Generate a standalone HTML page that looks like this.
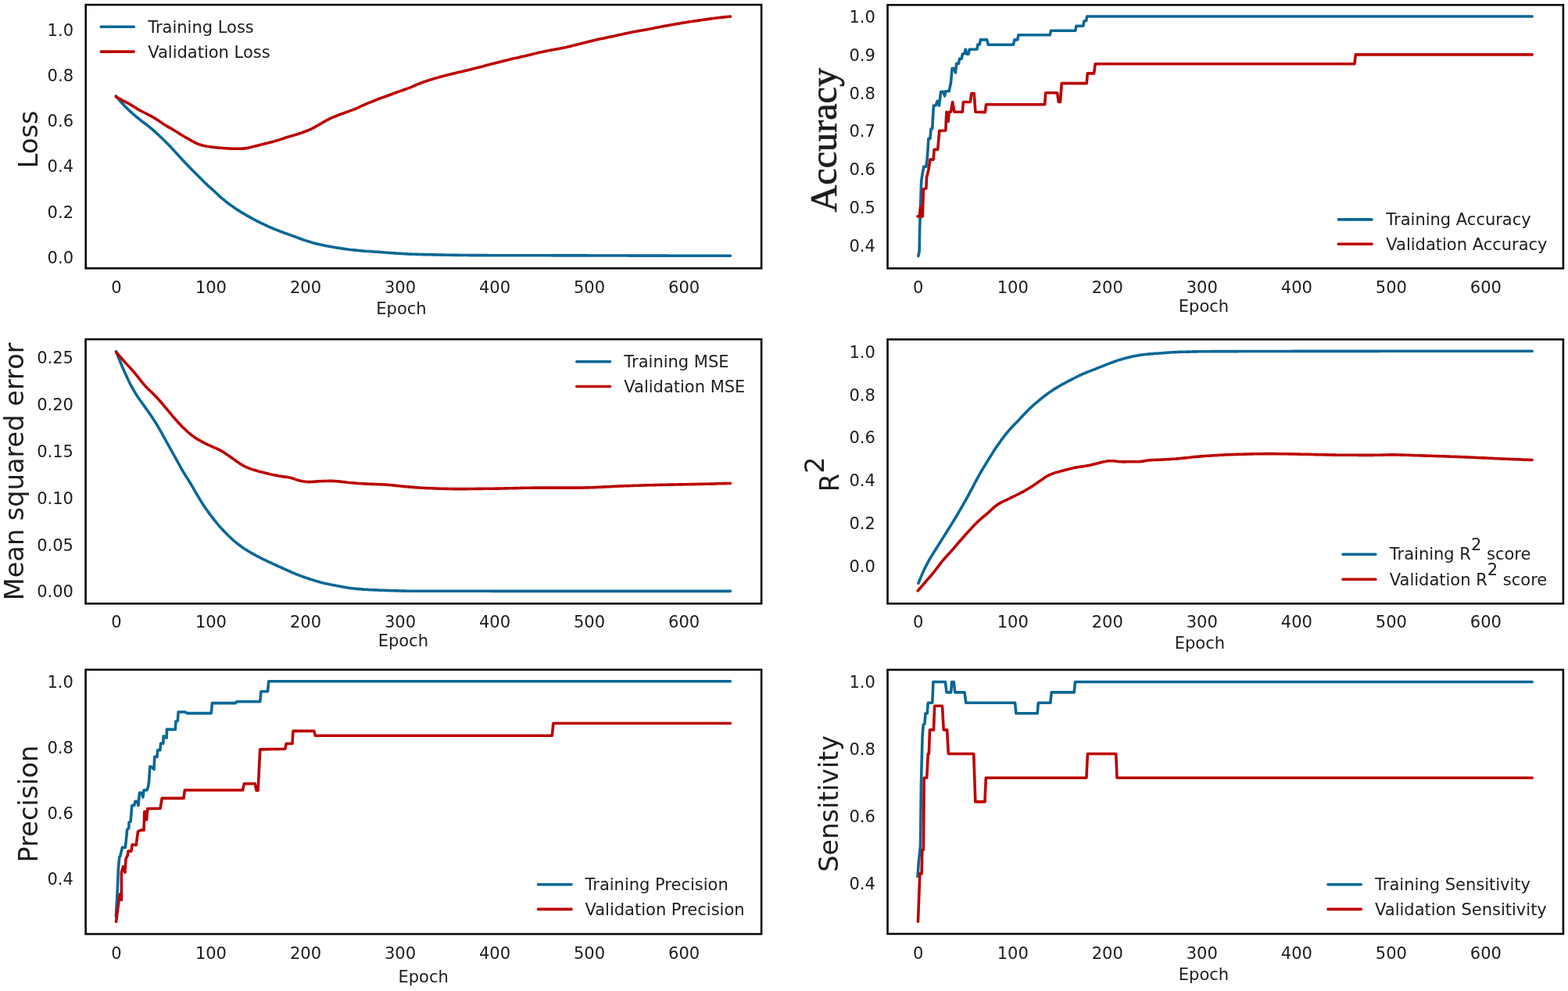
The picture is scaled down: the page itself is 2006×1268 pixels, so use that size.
<!DOCTYPE html><html><head><meta charset="utf-8"><title>Training curves</title>
<style>html,body{margin:0;padding:0;background:#fff;}svg{display:block;}text{fill:#1c1c1c;}</style></head><body>
<svg width="2006" height="1268" viewBox="0 0 2006 1268">
<rect width="2006" height="1268" fill="#fff"/>
<clipPath id="clipA"><rect x="109.7" y="6.1" width="864.4" height="337.2"/></clipPath>
<g clip-path="url(#clipA)" fill="none" stroke-width="3.6" stroke-linejoin="round" stroke-linecap="round">
<path d="M148.4,122.8 L150.4,125.3 L152.4,127.7 L154.4,130.1 L156.4,132.3 L158.4,134.5 L160.4,136.6 L162.4,138.6 L164.4,140.5 L166.4,142.4 L168.4,144.2 L170.4,146.0 L172.4,147.7 L174.4,149.4 L176.4,151.0 L178.4,152.6 L180.4,154.2 L182.4,155.7 L184.4,157.2 L186.4,158.7 L188.4,160.3 L190.4,161.9 L192.4,163.5 L194.4,165.2 L196.4,166.9 L198.4,168.7 L200.4,170.5 L202.4,172.3 L204.4,174.2 L206.4,176.1 L208.4,178.0 L210.4,180.0 L212.4,182.0 L214.4,184.0 L216.4,186.0 L218.4,188.1 L220.4,190.2 L222.4,192.4 L224.4,194.6 L226.4,196.8 L228.4,199.0 L230.4,201.2 L232.4,203.4 L234.4,205.5 L236.4,207.7 L238.4,209.8 L240.4,211.8 L242.4,213.9 L244.4,216.0 L246.4,218.0 L248.4,220.0 L250.4,222.0 L252.4,224.0 L254.4,226.0 L256.4,228.0 L258.4,230.1 L260.4,232.1 L262.4,234.0 L264.4,235.9 L266.4,237.8 L268.4,239.6 L270.4,241.4 L272.4,243.2 L274.4,245.0 L276.4,246.9 L278.4,248.7 L280.4,250.6 L282.4,252.3 L284.4,254.1 L286.4,255.7 L288.4,257.4 L290.4,259.0 L292.4,260.5 L294.4,262.0 L296.4,263.4 L298.4,264.8 L300.4,266.2 L302.4,267.6 L304.4,268.9 L306.4,270.1 L308.4,271.4 L310.4,272.6 L312.4,273.7 L314.4,274.9 L316.4,276.1 L318.4,277.2 L320.4,278.3 L322.4,279.4 L324.4,280.5 L326.4,281.6 L328.4,282.6 L330.4,283.6 L332.4,284.6 L334.4,285.6 L336.4,286.5 L338.4,287.5 L340.4,288.4 L342.4,289.4 L344.4,290.3 L346.4,291.1 L348.4,292.0 L350.4,292.8 L352.4,293.7 L354.4,294.4 L356.4,295.2 L358.4,296.0 L360.4,296.7 L362.4,297.5 L364.4,298.2 L366.4,298.9 L368.4,299.6 L370.4,300.3 L372.4,301.1 L374.4,301.8 L376.4,302.5 L378.4,303.3 L380.4,304.0 L382.4,304.8 L384.4,305.5 L386.4,306.2 L388.4,307.0 L390.4,307.6 L392.4,308.3 L394.4,308.9 L396.4,309.5 L398.4,310.1 L400.4,310.7 L402.4,311.2 L404.4,311.7 L406.4,312.2 L408.4,312.7 L410.4,313.1 L412.4,313.6 L414.4,314.0 L416.4,314.4 L418.4,314.8 L420.4,315.1 L422.4,315.5 L424.4,315.8 L426.4,316.2 L428.4,316.5 L430.4,316.9 L432.4,317.2 L434.4,317.5 L436.4,317.8 L438.4,318.1 L440.4,318.4 L442.4,318.7 L444.4,319.0 L446.4,319.2 L448.4,319.5 L450.4,319.7 L452.4,319.9 L454.4,320.1 L456.4,320.3 L458.4,320.5 L460.4,320.7 L462.4,320.9 L464.4,321.1 L466.4,321.2 L468.4,321.4 L470.4,321.5 L472.4,321.6 L474.4,321.8 L476.4,321.9 L478.4,322.0 L480.4,322.2 L482.4,322.3 L484.4,322.4 L486.4,322.6 L488.4,322.7 L490.4,322.9 L492.4,323.0 L494.4,323.2 L496.4,323.4 L498.4,323.5 L500.4,323.7 L502.4,323.8 L504.4,323.9 L506.4,324.1 L508.4,324.2 L510.4,324.3 L512.4,324.4 L514.4,324.5 L516.4,324.7 L518.4,324.8 L520.4,324.9 L522.4,325.0 L524.4,325.1 L526.4,325.1 L528.4,325.2 L530.4,325.3 L532.4,325.4 L534.4,325.4 L536.4,325.5 L538.4,325.5 L540.4,325.6 L542.4,325.6 L544.4,325.7 L546.4,325.7 L548.4,325.8 L550.4,325.8 L552.4,325.9 L554.4,325.9 L556.4,325.9 L558.4,326.0 L560.4,326.0 L562.4,326.1 L564.4,326.1 L566.4,326.1 L568.4,326.2 L570.4,326.2 L572.4,326.3 L574.4,326.3 L576.4,326.3 L578.4,326.4 L580.4,326.4 L582.4,326.4 L584.4,326.4 L586.4,326.5 L588.4,326.5 L590.4,326.5 L592.4,326.5 L594.4,326.5 L596.4,326.5 L598.4,326.5 L600.4,326.6 L602.4,326.6 L604.4,326.6 L606.4,326.6 L608.4,326.6 L610.4,326.6 L612.4,326.6 L614.4,326.6 L616.4,326.6 L618.4,326.6 L620.4,326.6 L622.4,326.6 L624.4,326.7 L626.4,326.7 L628.4,326.7 L630.4,326.7 L632.4,326.7 L634.4,326.7 L636.4,326.7 L638.4,326.7 L640.4,326.7 L642.4,326.7 L644.4,326.7 L646.4,326.7 L648.4,326.7 L650.4,326.7 L652.4,326.7 L654.4,326.7 L656.4,326.7 L658.4,326.7 L660.4,326.8 L662.4,326.8 L664.4,326.8 L666.4,326.8 L668.4,326.8 L670.4,326.8 L672.4,326.8 L674.4,326.8 L676.4,326.8 L678.4,326.8 L680.4,326.8 L682.4,326.8 L684.4,326.8 L686.4,326.8 L688.4,326.8 L690.4,326.8 L692.4,326.8 L694.4,326.8 L696.4,326.8 L698.4,326.8 L700.4,326.8 L702.4,326.8 L704.4,326.8 L706.4,326.9 L708.4,326.9 L710.4,326.9 L712.4,326.9 L714.4,326.9 L716.4,326.9 L718.4,326.9 L720.4,326.9 L722.4,326.9 L724.4,326.9 L726.4,326.9 L728.4,326.9 L730.4,326.9 L732.4,326.9 L734.4,326.9 L736.4,326.9 L738.4,326.9 L740.4,326.9 L742.4,326.9 L744.4,326.9 L746.4,326.9 L748.4,326.9 L750.4,326.9 L752.4,326.9 L754.4,327.0 L756.4,327.0 L758.4,327.0 L760.4,327.0 L762.4,327.0 L764.4,327.0 L766.4,327.0 L768.4,327.0 L770.4,327.0 L772.4,327.0 L774.4,327.0 L776.4,327.0 L778.4,327.0 L780.4,327.0 L782.4,327.0 L784.4,327.0 L786.4,327.0 L788.4,327.0 L790.4,327.0 L792.4,327.0 L794.4,327.0 L796.4,327.0 L798.4,327.0 L800.4,327.0 L802.4,327.0 L804.4,327.1 L806.4,327.1 L808.4,327.1 L810.4,327.1 L812.4,327.1 L814.4,327.1 L816.4,327.1 L818.4,327.1 L820.4,327.1 L822.4,327.1 L824.4,327.1 L826.4,327.1 L828.4,327.1 L830.4,327.1 L832.4,327.1 L834.4,327.1 L836.4,327.1 L838.4,327.1 L840.4,327.1 L842.4,327.1 L844.4,327.1 L846.4,327.1 L848.4,327.1 L850.4,327.1 L852.4,327.1 L854.4,327.2 L856.4,327.2 L858.4,327.2 L860.4,327.2 L862.4,327.2 L864.4,327.2 L866.4,327.2 L868.4,327.2 L870.4,327.2 L872.4,327.2 L874.4,327.2 L876.4,327.2 L878.4,327.2 L880.4,327.2 L882.4,327.2 L884.4,327.2 L886.4,327.2 L888.4,327.2 L890.4,327.2 L892.4,327.2 L894.4,327.2 L896.4,327.2 L898.4,327.2 L900.4,327.2 L902.4,327.2 L904.4,327.2 L906.4,327.3 L908.4,327.3 L910.4,327.3 L912.4,327.3 L914.4,327.3 L916.4,327.3 L918.4,327.3 L920.4,327.3 L922.4,327.3 L924.4,327.3 L926.4,327.3 L928.4,327.3 L930.4,327.3 L932.4,327.3 L934.4,327.3" stroke="#0a6796"/>
<path d="M148.4,123.8 L150.4,125.0 L152.4,126.1 L154.4,127.2 L156.4,128.3 L158.4,129.3 L160.4,130.4 L162.4,131.4 L164.4,132.4 L166.4,133.5 L168.4,134.7 L170.4,135.9 L172.4,137.2 L174.4,138.4 L176.4,139.7 L178.4,140.9 L180.4,142.0 L182.4,143.0 L184.4,144.0 L186.4,145.0 L188.4,146.1 L190.4,147.1 L192.4,148.1 L194.4,149.2 L196.4,150.4 L198.4,151.5 L200.4,152.8 L202.4,154.1 L204.4,155.5 L206.4,156.8 L208.4,158.2 L210.4,159.5 L212.4,160.7 L214.4,161.9 L216.4,163.1 L218.4,164.2 L220.4,165.3 L222.4,166.5 L224.4,167.7 L226.4,169.0 L228.4,170.3 L230.4,171.6 L232.4,172.8 L234.4,174.0 L236.4,175.2 L238.4,176.3 L240.4,177.4 L242.4,178.5 L244.4,179.7 L246.4,180.8 L248.4,181.9 L250.4,182.9 L252.4,183.8 L254.4,184.6 L256.4,185.2 L258.4,185.8 L260.4,186.4 L262.4,186.8 L264.4,187.2 L266.4,187.5 L268.4,187.8 L270.4,188.1 L272.4,188.3 L274.4,188.6 L276.4,188.8 L278.4,189.0 L280.4,189.1 L282.4,189.3 L284.4,189.5 L286.4,189.6 L288.4,189.8 L290.4,189.9 L292.4,190.0 L294.4,190.1 L296.4,190.2 L298.4,190.3 L300.4,190.3 L302.4,190.3 L304.4,190.3 L306.4,190.3 L308.4,190.2 L310.4,190.1 L312.4,189.9 L314.4,189.7 L316.4,189.4 L318.4,189.0 L320.4,188.6 L322.4,188.1 L324.4,187.6 L326.4,187.0 L328.4,186.5 L330.4,186.0 L332.4,185.4 L334.4,184.9 L336.4,184.4 L338.4,183.9 L340.4,183.4 L342.4,183.0 L344.4,182.5 L346.4,182.0 L348.4,181.5 L350.4,181.0 L352.4,180.4 L354.4,179.8 L356.4,179.2 L358.4,178.6 L360.4,177.9 L362.4,177.2 L364.4,176.5 L366.4,175.8 L368.4,175.2 L370.4,174.6 L372.4,174.0 L374.4,173.5 L376.4,172.9 L378.4,172.3 L380.4,171.7 L382.4,171.0 L384.4,170.4 L386.4,169.7 L388.4,169.0 L390.4,168.2 L392.4,167.5 L394.4,166.7 L396.4,165.8 L398.4,164.9 L400.4,163.9 L402.4,162.8 L404.4,161.7 L406.4,160.6 L408.4,159.4 L410.4,158.2 L412.4,157.0 L414.4,155.9 L416.4,154.7 L418.4,153.6 L420.4,152.6 L422.4,151.6 L424.4,150.7 L426.4,149.9 L428.4,149.0 L430.4,148.3 L432.4,147.5 L434.4,146.7 L436.4,146.0 L438.4,145.3 L440.4,144.5 L442.4,143.8 L444.4,143.1 L446.4,142.3 L448.4,141.6 L450.4,140.9 L452.4,140.1 L454.4,139.3 L456.4,138.5 L458.4,137.6 L460.4,136.6 L462.4,135.7 L464.4,134.8 L466.4,133.9 L468.4,133.1 L470.4,132.2 L472.4,131.4 L474.4,130.6 L476.4,129.8 L478.4,129.0 L480.4,128.1 L482.4,127.3 L484.4,126.5 L486.4,125.8 L488.4,125.1 L490.4,124.4 L492.4,123.7 L494.4,123.0 L496.4,122.3 L498.4,121.5 L500.4,120.8 L502.4,120.0 L504.4,119.3 L506.4,118.5 L508.4,117.8 L510.4,117.1 L512.4,116.4 L514.4,115.7 L516.4,115.0 L518.4,114.3 L520.4,113.6 L522.4,112.9 L524.4,112.1 L526.4,111.3 L528.4,110.4 L530.4,109.5 L532.4,108.7 L534.4,107.8 L536.4,107.0 L538.4,106.2 L540.4,105.5 L542.4,104.8 L544.4,104.1 L546.4,103.4 L548.4,102.8 L550.4,102.1 L552.4,101.5 L554.4,100.9 L556.4,100.3 L558.4,99.7 L560.4,99.2 L562.4,98.6 L564.4,98.1 L566.4,97.5 L568.4,97.0 L570.4,96.5 L572.4,96.0 L574.4,95.5 L576.4,95.0 L578.4,94.5 L580.4,94.0 L582.4,93.5 L584.4,93.1 L586.4,92.6 L588.4,92.1 L590.4,91.7 L592.4,91.2 L594.4,90.7 L596.4,90.2 L598.4,89.7 L600.4,89.3 L602.4,88.8 L604.4,88.3 L606.4,87.8 L608.4,87.3 L610.4,86.8 L612.4,86.2 L614.4,85.7 L616.4,85.2 L618.4,84.7 L620.4,84.1 L622.4,83.6 L624.4,83.1 L626.4,82.5 L628.4,82.0 L630.4,81.5 L632.4,81.0 L634.4,80.5 L636.4,80.0 L638.4,79.5 L640.4,79.0 L642.4,78.5 L644.4,78.0 L646.4,77.5 L648.4,77.0 L650.4,76.5 L652.4,76.1 L654.4,75.6 L656.4,75.1 L658.4,74.6 L660.4,74.2 L662.4,73.7 L664.4,73.3 L666.4,72.8 L668.4,72.3 L670.4,71.9 L672.4,71.4 L674.4,70.9 L676.4,70.5 L678.4,70.0 L680.4,69.5 L682.4,69.0 L684.4,68.5 L686.4,68.1 L688.4,67.6 L690.4,67.1 L692.4,66.7 L694.4,66.2 L696.4,65.8 L698.4,65.4 L700.4,65.0 L702.4,64.6 L704.4,64.2 L706.4,63.8 L708.4,63.5 L710.4,63.1 L712.4,62.8 L714.4,62.4 L716.4,62.1 L718.4,61.7 L720.4,61.3 L722.4,60.8 L724.4,60.4 L726.4,59.9 L728.4,59.4 L730.4,58.9 L732.4,58.4 L734.4,57.9 L736.4,57.4 L738.4,56.9 L740.4,56.4 L742.4,55.9 L744.4,55.4 L746.4,54.9 L748.4,54.4 L750.4,53.9 L752.4,53.4 L754.4,52.9 L756.4,52.4 L758.4,51.9 L760.4,51.4 L762.4,51.0 L764.4,50.5 L766.4,50.1 L768.4,49.7 L770.4,49.3 L772.4,48.9 L774.4,48.4 L776.4,48.0 L778.4,47.6 L780.4,47.2 L782.4,46.8 L784.4,46.4 L786.4,45.9 L788.4,45.5 L790.4,45.0 L792.4,44.6 L794.4,44.2 L796.4,43.7 L798.4,43.3 L800.4,42.8 L802.4,42.4 L804.4,42.0 L806.4,41.6 L808.4,41.2 L810.4,40.8 L812.4,40.4 L814.4,40.1 L816.4,39.7 L818.4,39.3 L820.4,39.0 L822.4,38.6 L824.4,38.3 L826.4,37.9 L828.4,37.5 L830.4,37.2 L832.4,36.8 L834.4,36.4 L836.4,36.0 L838.4,35.6 L840.4,35.2 L842.4,34.8 L844.4,34.5 L846.4,34.1 L848.4,33.7 L850.4,33.3 L852.4,32.9 L854.4,32.6 L856.4,32.2 L858.4,31.8 L860.4,31.5 L862.4,31.1 L864.4,30.8 L866.4,30.4 L868.4,30.1 L870.4,29.8 L872.4,29.4 L874.4,29.1 L876.4,28.8 L878.4,28.5 L880.4,28.1 L882.4,27.8 L884.4,27.5 L886.4,27.2 L888.4,26.9 L890.4,26.6 L892.4,26.4 L894.4,26.1 L896.4,25.8 L898.4,25.5 L900.4,25.2 L902.4,24.9 L904.4,24.6 L906.4,24.4 L908.4,24.1 L910.4,23.8 L912.4,23.5 L914.4,23.3 L916.4,23.0 L918.4,22.8 L920.4,22.5 L922.4,22.3 L924.4,22.1 L926.4,21.9 L928.4,21.7 L930.4,21.5 L932.4,21.3 L934.4,21.1" stroke="#bb0000"/>
</g>
<rect x="109.7" y="6.1" width="864.4" height="337.2" fill="none" stroke="#0a0a0a" stroke-width="2.6" stroke-linejoin="miter"/>
<text x="94.00" y="336.70" font-size="21" text-anchor="end" font-family="'DejaVu Sans', 'Liberation Sans', sans-serif">0.0</text>
<text x="94.00" y="278.57" font-size="21" text-anchor="end" font-family="'DejaVu Sans', 'Liberation Sans', sans-serif">0.2</text>
<text x="94.00" y="220.44" font-size="21" text-anchor="end" font-family="'DejaVu Sans', 'Liberation Sans', sans-serif">0.4</text>
<text x="94.00" y="162.31" font-size="21" text-anchor="end" font-family="'DejaVu Sans', 'Liberation Sans', sans-serif">0.6</text>
<text x="94.00" y="104.18" font-size="21" text-anchor="end" font-family="'DejaVu Sans', 'Liberation Sans', sans-serif">0.8</text>
<text x="94.00" y="46.05" font-size="21" text-anchor="end" font-family="'DejaVu Sans', 'Liberation Sans', sans-serif">1.0</text>
<text x="148.90" y="374.70" font-size="21" text-anchor="middle" font-family="'DejaVu Sans', 'Liberation Sans', sans-serif">0</text>
<text x="269.93" y="374.70" font-size="21" text-anchor="middle" font-family="'DejaVu Sans', 'Liberation Sans', sans-serif">100</text>
<text x="390.96" y="374.70" font-size="21" text-anchor="middle" font-family="'DejaVu Sans', 'Liberation Sans', sans-serif">200</text>
<text x="511.99" y="374.70" font-size="21" text-anchor="middle" font-family="'DejaVu Sans', 'Liberation Sans', sans-serif">300</text>
<text x="633.02" y="374.70" font-size="21" text-anchor="middle" font-family="'DejaVu Sans', 'Liberation Sans', sans-serif">400</text>
<text x="754.05" y="374.70" font-size="21" text-anchor="middle" font-family="'DejaVu Sans', 'Liberation Sans', sans-serif">500</text>
<text x="875.08" y="374.70" font-size="21" text-anchor="middle" font-family="'DejaVu Sans', 'Liberation Sans', sans-serif">600</text>
<text x="513.50" y="401.90" font-size="21" text-anchor="middle" font-family="'DejaVu Sans', 'Liberation Sans', sans-serif">Epoch</text>
<line x1="129.3" y1="34.3" x2="171.2" y2="34.3" stroke="#0a6796" stroke-width="3.6" stroke-linecap="round"/>
<line x1="129.3" y1="66.1" x2="171.2" y2="66.1" stroke="#bb0000" stroke-width="3.6" stroke-linecap="round"/>
<text x="189.20" y="41.80" font-size="21" text-anchor="start" font-family="'DejaVu Sans', 'Liberation Sans', sans-serif">Training Loss</text>
<text x="189.20" y="73.60" font-size="21" text-anchor="start" font-family="'DejaVu Sans', 'Liberation Sans', sans-serif">Validation Loss</text>
<clipPath id="clipB"><rect x="1135.5" y="6.3" width="864.4000000000001" height="337.09999999999997"/></clipPath>
<g clip-path="url(#clipB)" fill="none" stroke-width="3.6" stroke-linejoin="round" stroke-linecap="round">
<path d="M1174.8,327.6 L1176.1,321.3 L1176.6,293.6 L1177.7,262.6 L1178.7,231.8 L1180.3,221.5 L1181.8,213.3 L1184.9,213.3 L1186.4,201.0 L1187.9,177.4 L1190.0,177.4 L1191.0,165.1 L1192.7,164.8 L1194.4,135.0 L1197.1,135.0 L1199.3,129.4 L1201.5,135.0 L1203.7,117.3 L1206.5,117.3 L1208.7,122.8 L1209.8,116.7 L1214.2,116.7 L1216.4,106.2 L1218.1,87.5 L1220.3,87.5 L1222.5,93.0 L1223.6,81.4 L1226.4,81.4 L1227.5,75.3 L1230.2,75.3 L1231.3,69.3 L1234.1,68.2 L1235.2,63.2 L1236.9,69.3 L1239.1,69.3 L1240.2,63.2 L1249.9,63.0 L1251.0,56.9 L1253.3,56.9 L1254.4,50.9 L1262.6,50.9 L1264.3,57.3 L1296.3,57.3 L1298.0,50.9 L1301.8,50.9 L1302.9,44.8 L1343.2,44.8 L1344.4,39.3 L1375.8,39.3 L1376.9,33.2 L1385.8,33.2 L1386.9,27.1 L1389.6,26.6 L1390.7,21.0 L1960.2,21.0" stroke="#0a6796"/>
<path d="M1174.1,276.9 L1176.2,276.9 L1177.7,264.6 L1178.7,276.9 L1179.5,268.0 L1180.3,276.9 L1181.3,242.1 L1184.9,241.0 L1185.4,227.7 L1187.9,217.4 L1190.0,204.1 L1194.1,204.1 L1195.1,191.3 L1199.7,191.3 L1201.8,167.2 L1209.8,167.0 L1210.9,143.2 L1212.0,150.0 L1213.1,155.4 L1214.2,143.2 L1216.4,143.2 L1218.6,130.5 L1220.9,143.2 L1231.3,143.2 L1232.4,130.5 L1241.3,130.5 L1242.9,119.5 L1246.2,119.5 L1247.9,143.2 L1260.4,143.6 L1261.5,133.7 L1336.6,133.7 L1337.7,118.8 L1352.6,118.8 L1354.3,130.4 L1356.5,130.4 L1358.2,106.6 L1390.2,106.6 L1391.3,93.9 L1399.6,93.9 L1401.2,81.8 L1732.9,81.8 L1734.3,69.9 L1960.2,69.9" stroke="#bb0000"/>
</g>
<rect x="1135.5" y="6.3" width="864.4" height="337.1" fill="none" stroke="#0a0a0a" stroke-width="2.6" stroke-linejoin="miter"/>
<text x="1119.80" y="321.70" font-size="21" text-anchor="end" font-family="'DejaVu Sans', 'Liberation Sans', sans-serif">0.4</text>
<text x="1119.80" y="272.95" font-size="21" text-anchor="end" font-family="'DejaVu Sans', 'Liberation Sans', sans-serif">0.5</text>
<text x="1119.80" y="224.20" font-size="21" text-anchor="end" font-family="'DejaVu Sans', 'Liberation Sans', sans-serif">0.6</text>
<text x="1119.80" y="175.45" font-size="21" text-anchor="end" font-family="'DejaVu Sans', 'Liberation Sans', sans-serif">0.7</text>
<text x="1119.80" y="126.70" font-size="21" text-anchor="end" font-family="'DejaVu Sans', 'Liberation Sans', sans-serif">0.8</text>
<text x="1119.80" y="77.95" font-size="21" text-anchor="end" font-family="'DejaVu Sans', 'Liberation Sans', sans-serif">0.9</text>
<text x="1119.80" y="29.20" font-size="21" text-anchor="end" font-family="'DejaVu Sans', 'Liberation Sans', sans-serif">1.0</text>
<text x="1174.70" y="374.70" font-size="21" text-anchor="middle" font-family="'DejaVu Sans', 'Liberation Sans', sans-serif">0</text>
<text x="1295.73" y="374.70" font-size="21" text-anchor="middle" font-family="'DejaVu Sans', 'Liberation Sans', sans-serif">100</text>
<text x="1416.76" y="374.70" font-size="21" text-anchor="middle" font-family="'DejaVu Sans', 'Liberation Sans', sans-serif">200</text>
<text x="1537.79" y="374.70" font-size="21" text-anchor="middle" font-family="'DejaVu Sans', 'Liberation Sans', sans-serif">300</text>
<text x="1658.82" y="374.70" font-size="21" text-anchor="middle" font-family="'DejaVu Sans', 'Liberation Sans', sans-serif">400</text>
<text x="1779.85" y="374.70" font-size="21" text-anchor="middle" font-family="'DejaVu Sans', 'Liberation Sans', sans-serif">500</text>
<text x="1900.88" y="374.70" font-size="21" text-anchor="middle" font-family="'DejaVu Sans', 'Liberation Sans', sans-serif">600</text>
<text x="1540.00" y="399.00" font-size="21" text-anchor="middle" font-family="'DejaVu Sans', 'Liberation Sans', sans-serif">Epoch</text>
<line x1="1712.3" y1="280.9" x2="1755.0" y2="280.9" stroke="#0a6796" stroke-width="3.6" stroke-linecap="round"/>
<line x1="1712.3" y1="312.3" x2="1755.0" y2="312.3" stroke="#bb0000" stroke-width="3.6" stroke-linecap="round"/>
<text x="1773.30" y="288.10" font-size="21" text-anchor="start" font-family="'DejaVu Sans', 'Liberation Sans', sans-serif">Training Accuracy</text>
<text x="1773.30" y="319.50" font-size="21" text-anchor="start" font-family="'DejaVu Sans', 'Liberation Sans', sans-serif">Validation Accuracy</text>
<clipPath id="clipC"><rect x="109.6" y="434.1" width="864.5" height="338.19999999999993"/></clipPath>
<g clip-path="url(#clipC)" fill="none" stroke-width="3.6" stroke-linejoin="round" stroke-linecap="round">
<path d="M148.6,449.7 L150.6,454.9 L152.6,459.9 L154.6,464.8 L156.6,469.5 L158.6,474.1 L160.6,478.6 L162.6,482.9 L164.6,487.2 L166.6,491.2 L168.6,495.1 L170.6,498.7 L172.6,502.1 L174.6,505.3 L176.6,508.3 L178.6,511.2 L180.6,514.0 L182.6,516.8 L184.6,519.6 L186.6,522.4 L188.6,525.2 L190.6,528.0 L192.6,530.9 L194.6,533.8 L196.6,536.9 L198.6,540.0 L200.6,543.3 L202.6,546.7 L204.6,550.2 L206.6,553.7 L208.6,557.3 L210.6,560.9 L212.6,564.5 L214.6,568.1 L216.6,571.7 L218.6,575.3 L220.6,578.9 L222.6,582.5 L224.6,586.1 L226.6,589.7 L228.6,593.4 L230.6,597.0 L232.6,600.5 L234.6,604.0 L236.6,607.3 L238.6,610.5 L240.6,613.6 L242.6,616.7 L244.6,620.0 L246.6,623.4 L248.6,626.8 L250.6,630.3 L252.6,633.8 L254.6,637.2 L256.6,640.5 L258.6,643.7 L260.6,646.7 L262.6,649.7 L264.6,652.6 L266.6,655.4 L268.6,658.1 L270.6,660.8 L272.6,663.4 L274.6,665.9 L276.6,668.4 L278.6,670.8 L280.6,673.1 L282.6,675.4 L284.6,677.6 L286.6,679.7 L288.6,681.8 L290.6,683.8 L292.6,685.8 L294.6,687.7 L296.6,689.5 L298.6,691.3 L300.6,693.0 L302.6,694.7 L304.6,696.3 L306.6,697.8 L308.6,699.3 L310.6,700.7 L312.6,702.1 L314.6,703.3 L316.6,704.6 L318.6,705.8 L320.6,707.0 L322.6,708.1 L324.6,709.2 L326.6,710.3 L328.6,711.4 L330.6,712.4 L332.6,713.5 L334.6,714.5 L336.6,715.5 L338.6,716.4 L340.6,717.4 L342.6,718.4 L344.6,719.3 L346.6,720.2 L348.6,721.2 L350.6,722.1 L352.6,723.0 L354.6,723.9 L356.6,724.8 L358.6,725.7 L360.6,726.6 L362.6,727.5 L364.6,728.4 L366.6,729.3 L368.6,730.2 L370.6,731.1 L372.6,732.0 L374.6,732.9 L376.6,733.7 L378.6,734.6 L380.6,735.3 L382.6,736.1 L384.6,736.9 L386.6,737.6 L388.6,738.3 L390.6,739.0 L392.6,739.6 L394.6,740.3 L396.6,741.0 L398.6,741.6 L400.6,742.2 L402.6,742.9 L404.6,743.5 L406.6,744.1 L408.6,744.6 L410.6,745.2 L412.6,745.7 L414.6,746.2 L416.6,746.7 L418.6,747.1 L420.6,747.5 L422.6,747.9 L424.6,748.3 L426.6,748.7 L428.6,749.1 L430.6,749.5 L432.6,749.8 L434.6,750.2 L436.6,750.6 L438.6,750.9 L440.6,751.3 L442.6,751.6 L444.6,752.0 L446.6,752.3 L448.6,752.6 L450.6,752.8 L452.6,753.0 L454.6,753.3 L456.6,753.4 L458.6,753.6 L460.6,753.8 L462.6,753.9 L464.6,754.1 L466.6,754.2 L468.6,754.3 L470.6,754.5 L472.6,754.6 L474.6,754.7 L476.6,754.8 L478.6,754.9 L480.6,754.9 L482.6,755.0 L484.6,755.1 L486.6,755.2 L488.6,755.3 L490.6,755.3 L492.6,755.4 L494.6,755.5 L496.6,755.5 L498.6,755.6 L500.6,755.7 L502.6,755.7 L504.6,755.8 L506.6,755.9 L508.6,755.9 L510.6,756.0 L512.6,756.0 L514.6,756.1 L516.6,756.1 L518.6,756.1 L520.6,756.2 L522.6,756.2 L524.6,756.2 L526.6,756.3 L528.6,756.3 L530.6,756.3 L532.6,756.3 L534.6,756.3 L536.6,756.3 L538.6,756.3 L540.6,756.3 L542.6,756.3 L544.6,756.3 L546.6,756.3 L548.6,756.3 L550.6,756.3 L552.6,756.3 L554.6,756.3 L556.6,756.3 L558.6,756.3 L560.6,756.3 L562.6,756.3 L564.6,756.3 L566.6,756.3 L568.6,756.3 L570.6,756.3 L572.6,756.3 L574.6,756.3 L576.6,756.3 L578.6,756.3 L580.6,756.3 L582.6,756.3 L584.6,756.3 L586.6,756.3 L588.6,756.3 L590.6,756.3 L592.6,756.3 L594.6,756.3 L596.6,756.3 L598.6,756.3 L600.6,756.3 L602.6,756.3 L604.6,756.3 L606.6,756.3 L608.6,756.3 L610.6,756.3 L612.6,756.3 L614.6,756.3 L616.6,756.3 L618.6,756.3 L620.6,756.3 L622.6,756.3 L624.6,756.3 L626.6,756.3 L628.6,756.4 L630.6,756.4 L632.6,756.4 L634.6,756.4 L636.6,756.4 L638.6,756.4 L640.6,756.4 L642.6,756.4 L644.6,756.4 L646.6,756.4 L648.6,756.4 L650.6,756.4 L652.6,756.4 L654.6,756.4 L656.6,756.4 L658.6,756.4 L660.6,756.4 L662.6,756.4 L664.6,756.4 L666.6,756.4 L668.6,756.4 L670.6,756.4 L672.6,756.4 L674.6,756.4 L676.6,756.4 L678.6,756.4 L680.6,756.4 L682.6,756.4 L684.6,756.4 L686.6,756.4 L688.6,756.4 L690.6,756.4 L692.6,756.4 L694.6,756.4 L696.6,756.4 L698.6,756.4 L700.6,756.4 L702.6,756.4 L704.6,756.4 L706.6,756.4 L708.6,756.4 L710.6,756.4 L712.6,756.4 L714.6,756.4 L716.6,756.4 L718.6,756.4 L720.6,756.4 L722.6,756.4 L724.6,756.4 L726.6,756.4 L728.6,756.4 L730.6,756.4 L732.6,756.4 L734.6,756.4 L736.6,756.4 L738.6,756.4 L740.6,756.4 L742.6,756.4 L744.6,756.4 L746.6,756.4 L748.6,756.4 L750.6,756.4 L752.6,756.4 L754.6,756.4 L756.6,756.4 L758.6,756.4 L760.6,756.4 L762.6,756.4 L764.6,756.4 L766.6,756.4 L768.6,756.4 L770.6,756.4 L772.6,756.4 L774.6,756.4 L776.6,756.4 L778.6,756.4 L780.6,756.4 L782.6,756.4 L784.6,756.4 L786.6,756.4 L788.6,756.4 L790.6,756.4 L792.6,756.4 L794.6,756.4 L796.6,756.4 L798.6,756.4 L800.6,756.4 L802.6,756.4 L804.6,756.4 L806.6,756.4 L808.6,756.4 L810.6,756.4 L812.6,756.4 L814.6,756.4 L816.6,756.4 L818.6,756.4 L820.6,756.4 L822.6,756.4 L824.6,756.4 L826.6,756.4 L828.6,756.4 L830.6,756.4 L832.6,756.4 L834.6,756.4 L836.6,756.4 L838.6,756.4 L840.6,756.4 L842.6,756.4 L844.6,756.4 L846.6,756.4 L848.6,756.4 L850.6,756.4 L852.6,756.4 L854.6,756.4 L856.6,756.4 L858.6,756.4 L860.6,756.4 L862.6,756.4 L864.6,756.4 L866.6,756.4 L868.6,756.4 L870.6,756.4 L872.6,756.4 L874.6,756.4 L876.6,756.4 L878.6,756.4 L880.6,756.4 L882.6,756.4 L884.6,756.4 L886.6,756.4 L888.6,756.4 L890.6,756.4 L892.6,756.4 L894.6,756.4 L896.6,756.4 L898.6,756.4 L900.6,756.4 L902.6,756.4 L904.6,756.4 L906.6,756.4 L908.6,756.4 L910.6,756.4 L912.6,756.4 L914.6,756.4 L916.6,756.4 L918.6,756.4 L920.6,756.4 L922.6,756.4 L924.6,756.4 L926.6,756.4 L928.6,756.4 L930.6,756.4 L932.6,756.4 L934.4,756.4" stroke="#0a6796"/>
<path d="M148.6,450.7 L150.6,453.0 L152.6,455.3 L154.6,457.5 L156.6,459.8 L158.6,462.0 L160.6,464.2 L162.6,466.4 L164.6,468.6 L166.6,470.8 L168.6,473.0 L170.6,475.3 L172.6,477.6 L174.6,480.0 L176.6,482.5 L178.6,485.1 L180.6,487.6 L182.6,490.1 L184.6,492.4 L186.6,494.7 L188.6,496.8 L190.6,498.7 L192.6,500.6 L194.6,502.5 L196.6,504.5 L198.6,506.5 L200.6,508.5 L202.6,510.7 L204.6,513.0 L206.6,515.3 L208.6,517.7 L210.6,520.1 L212.6,522.5 L214.6,524.9 L216.6,527.3 L218.6,529.7 L220.6,532.1 L222.6,534.4 L224.6,536.7 L226.6,539.0 L228.6,541.2 L230.6,543.3 L232.6,545.4 L234.6,547.4 L236.6,549.3 L238.6,551.2 L240.6,553.0 L242.6,554.7 L244.6,556.3 L246.6,557.9 L248.6,559.3 L250.6,560.7 L252.6,561.9 L254.6,563.1 L256.6,564.2 L258.6,565.3 L260.6,566.4 L262.6,567.4 L264.6,568.4 L266.6,569.3 L268.6,570.2 L270.6,571.1 L272.6,572.0 L274.6,572.9 L276.6,573.7 L278.6,574.7 L280.6,575.6 L282.6,576.7 L284.6,577.8 L286.6,579.0 L288.6,580.4 L290.6,581.7 L292.6,583.1 L294.6,584.5 L296.6,586.0 L298.6,587.4 L300.6,588.8 L302.6,590.2 L304.6,591.6 L306.6,592.9 L308.6,594.2 L310.6,595.4 L312.6,596.5 L314.6,597.5 L316.6,598.4 L318.6,599.2 L320.6,599.9 L322.6,600.6 L324.6,601.2 L326.6,601.8 L328.6,602.4 L330.6,603.0 L332.6,603.5 L334.6,604.1 L336.6,604.6 L338.6,605.1 L340.6,605.6 L342.6,606.0 L344.6,606.5 L346.6,607.0 L348.6,607.4 L350.6,607.8 L352.6,608.2 L354.6,608.6 L356.6,609.0 L358.6,609.3 L360.6,609.6 L362.6,609.9 L364.6,610.1 L366.6,610.4 L368.6,610.7 L370.6,611.1 L372.6,611.6 L374.6,612.2 L376.6,612.9 L378.6,613.6 L380.6,614.3 L382.6,614.8 L384.6,615.3 L386.6,615.7 L388.6,616.0 L390.6,616.3 L392.6,616.5 L394.6,616.6 L396.6,616.6 L398.6,616.5 L400.6,616.4 L402.6,616.3 L404.6,616.1 L406.6,615.9 L408.6,615.8 L410.6,615.7 L412.6,615.6 L414.6,615.5 L416.6,615.5 L418.6,615.5 L420.6,615.4 L422.6,615.4 L424.6,615.4 L426.6,615.5 L428.6,615.6 L430.6,615.7 L432.6,615.9 L434.6,616.1 L436.6,616.4 L438.6,616.6 L440.6,616.8 L442.6,617.0 L444.6,617.3 L446.6,617.5 L448.6,617.7 L450.6,617.8 L452.6,618.0 L454.6,618.2 L456.6,618.4 L458.6,618.5 L460.6,618.7 L462.6,618.8 L464.6,618.9 L466.6,619.0 L468.6,619.1 L470.6,619.2 L472.6,619.3 L474.6,619.4 L476.6,619.4 L478.6,619.5 L480.6,619.6 L482.6,619.7 L484.6,619.7 L486.6,619.8 L488.6,619.9 L490.6,620.0 L492.6,620.1 L494.6,620.2 L496.6,620.4 L498.6,620.5 L500.6,620.7 L502.6,620.9 L504.6,621.1 L506.6,621.4 L508.6,621.6 L510.6,621.8 L512.6,622.0 L514.6,622.2 L516.6,622.4 L518.6,622.6 L520.6,622.7 L522.6,622.9 L524.6,623.1 L526.6,623.3 L528.6,623.4 L530.6,623.6 L532.6,623.7 L534.6,623.9 L536.6,624.0 L538.6,624.2 L540.6,624.3 L542.6,624.4 L544.6,624.5 L546.6,624.6 L548.6,624.7 L550.6,624.8 L552.6,624.8 L554.6,624.9 L556.6,625.0 L558.6,625.0 L560.6,625.1 L562.6,625.2 L564.6,625.2 L566.6,625.3 L568.6,625.4 L570.6,625.4 L572.6,625.4 L574.6,625.5 L576.6,625.5 L578.6,625.5 L580.6,625.6 L582.6,625.6 L584.6,625.6 L586.6,625.6 L588.6,625.6 L590.6,625.6 L592.6,625.6 L594.6,625.6 L596.6,625.6 L598.6,625.5 L600.6,625.5 L602.6,625.5 L604.6,625.5 L606.6,625.5 L608.6,625.5 L610.6,625.4 L612.6,625.4 L614.6,625.4 L616.6,625.4 L618.6,625.3 L620.6,625.3 L622.6,625.3 L624.6,625.3 L626.6,625.2 L628.6,625.2 L630.6,625.2 L632.6,625.2 L634.6,625.1 L636.6,625.1 L638.6,625.1 L640.6,625.0 L642.6,625.0 L644.6,625.0 L646.6,624.9 L648.6,624.9 L650.6,624.8 L652.6,624.8 L654.6,624.7 L656.6,624.7 L658.6,624.6 L660.6,624.6 L662.6,624.5 L664.6,624.5 L666.6,624.4 L668.6,624.4 L670.6,624.3 L672.6,624.3 L674.6,624.3 L676.6,624.2 L678.6,624.2 L680.6,624.2 L682.6,624.1 L684.6,624.1 L686.6,624.1 L688.6,624.1 L690.6,624.1 L692.6,624.1 L694.6,624.1 L696.6,624.1 L698.6,624.1 L700.6,624.1 L702.6,624.1 L704.6,624.1 L706.6,624.1 L708.6,624.1 L710.6,624.1 L712.6,624.1 L714.6,624.1 L716.6,624.1 L718.6,624.1 L720.6,624.1 L722.6,624.1 L724.6,624.1 L726.6,624.1 L728.6,624.1 L730.6,624.1 L732.6,624.1 L734.6,624.1 L736.6,624.1 L738.6,624.1 L740.6,624.1 L742.6,624.1 L744.6,624.1 L746.6,624.0 L748.6,624.0 L750.6,623.9 L752.6,623.9 L754.6,623.8 L756.6,623.7 L758.6,623.7 L760.6,623.6 L762.6,623.5 L764.6,623.4 L766.6,623.3 L768.6,623.2 L770.6,623.1 L772.6,623.0 L774.6,622.9 L776.6,622.8 L778.6,622.7 L780.6,622.6 L782.6,622.5 L784.6,622.4 L786.6,622.3 L788.6,622.2 L790.6,622.1 L792.6,622.0 L794.6,621.9 L796.6,621.9 L798.6,621.8 L800.6,621.7 L802.6,621.7 L804.6,621.6 L806.6,621.5 L808.6,621.5 L810.6,621.4 L812.6,621.3 L814.6,621.3 L816.6,621.2 L818.6,621.1 L820.6,621.1 L822.6,621.0 L824.6,620.9 L826.6,620.9 L828.6,620.8 L830.6,620.8 L832.6,620.7 L834.6,620.7 L836.6,620.6 L838.6,620.6 L840.6,620.5 L842.6,620.5 L844.6,620.4 L846.6,620.4 L848.6,620.3 L850.6,620.3 L852.6,620.2 L854.6,620.2 L856.6,620.1 L858.6,620.1 L860.6,620.1 L862.6,620.0 L864.6,620.0 L866.6,620.0 L868.6,619.9 L870.6,619.9 L872.6,619.9 L874.6,619.8 L876.6,619.8 L878.6,619.8 L880.6,619.7 L882.6,619.7 L884.6,619.6 L886.6,619.6 L888.6,619.6 L890.6,619.5 L892.6,619.5 L894.6,619.4 L896.6,619.4 L898.6,619.4 L900.6,619.3 L902.6,619.3 L904.6,619.2 L906.6,619.2 L908.6,619.1 L910.6,619.1 L912.6,619.0 L914.6,619.0 L916.6,618.9 L918.6,618.8 L920.6,618.8 L922.6,618.7 L924.6,618.7 L926.6,618.6 L928.6,618.6 L930.6,618.5 L932.6,618.5 L934.4,618.4" stroke="#bb0000"/>
</g>
<rect x="109.6" y="434.1" width="864.5" height="338.2" fill="none" stroke="#0a0a0a" stroke-width="2.6" stroke-linejoin="miter"/>
<text x="93.90" y="764.40" font-size="21" text-anchor="end" font-family="'DejaVu Sans', 'Liberation Sans', sans-serif">0.00</text>
<text x="93.90" y="704.56" font-size="21" text-anchor="end" font-family="'DejaVu Sans', 'Liberation Sans', sans-serif">0.05</text>
<text x="93.90" y="644.72" font-size="21" text-anchor="end" font-family="'DejaVu Sans', 'Liberation Sans', sans-serif">0.10</text>
<text x="93.90" y="584.88" font-size="21" text-anchor="end" font-family="'DejaVu Sans', 'Liberation Sans', sans-serif">0.15</text>
<text x="93.90" y="525.04" font-size="21" text-anchor="end" font-family="'DejaVu Sans', 'Liberation Sans', sans-serif">0.20</text>
<text x="93.90" y="465.20" font-size="21" text-anchor="end" font-family="'DejaVu Sans', 'Liberation Sans', sans-serif">0.25</text>
<text x="148.90" y="803.00" font-size="21" text-anchor="middle" font-family="'DejaVu Sans', 'Liberation Sans', sans-serif">0</text>
<text x="269.93" y="803.00" font-size="21" text-anchor="middle" font-family="'DejaVu Sans', 'Liberation Sans', sans-serif">100</text>
<text x="390.96" y="803.00" font-size="21" text-anchor="middle" font-family="'DejaVu Sans', 'Liberation Sans', sans-serif">200</text>
<text x="511.99" y="803.00" font-size="21" text-anchor="middle" font-family="'DejaVu Sans', 'Liberation Sans', sans-serif">300</text>
<text x="633.02" y="803.00" font-size="21" text-anchor="middle" font-family="'DejaVu Sans', 'Liberation Sans', sans-serif">400</text>
<text x="754.05" y="803.00" font-size="21" text-anchor="middle" font-family="'DejaVu Sans', 'Liberation Sans', sans-serif">500</text>
<text x="875.08" y="803.00" font-size="21" text-anchor="middle" font-family="'DejaVu Sans', 'Liberation Sans', sans-serif">600</text>
<text x="515.80" y="826.70" font-size="21" text-anchor="middle" font-family="'DejaVu Sans', 'Liberation Sans', sans-serif">Epoch</text>
<line x1="737.8" y1="462.7" x2="780.5" y2="462.7" stroke="#0a6796" stroke-width="3.6" stroke-linecap="round"/>
<line x1="737.8" y1="494.5" x2="780.5" y2="494.5" stroke="#bb0000" stroke-width="3.6" stroke-linecap="round"/>
<text x="798.30" y="470.20" font-size="21" text-anchor="start" font-family="'DejaVu Sans', 'Liberation Sans', sans-serif">Training MSE</text>
<text x="798.30" y="501.70" font-size="21" text-anchor="start" font-family="'DejaVu Sans', 'Liberation Sans', sans-serif">Validation MSE</text>
<clipPath id="clipD"><rect x="1135.5" y="434.3" width="864.4000000000001" height="337.99999999999994"/></clipPath>
<g clip-path="url(#clipD)" fill="none" stroke-width="3.6" stroke-linejoin="round" stroke-linecap="round">
<path d="M1174.9,746.4 L1176.9,741.4 L1178.9,736.6 L1180.9,732.0 L1182.9,727.7 L1184.9,723.6 L1186.9,719.8 L1188.9,716.2 L1190.9,712.9 L1192.9,709.6 L1194.9,706.4 L1196.9,703.2 L1198.9,700.1 L1200.9,696.9 L1202.9,693.7 L1204.9,690.6 L1206.9,687.4 L1208.9,684.2 L1210.9,681.0 L1212.9,677.8 L1214.9,674.6 L1216.9,671.4 L1218.9,668.1 L1220.9,664.8 L1222.9,661.5 L1224.9,658.2 L1226.9,654.8 L1228.9,651.4 L1230.9,648.0 L1232.9,644.4 L1234.9,640.9 L1236.9,637.3 L1238.9,633.6 L1240.9,629.8 L1242.9,626.1 L1244.9,622.3 L1246.9,618.5 L1248.9,614.8 L1250.9,611.1 L1252.9,607.5 L1254.9,604.0 L1256.9,600.6 L1258.9,597.2 L1260.9,594.0 L1262.9,590.7 L1264.9,587.5 L1266.9,584.3 L1268.9,581.1 L1270.9,577.9 L1272.9,574.8 L1274.9,571.8 L1276.9,568.9 L1278.9,566.1 L1280.9,563.3 L1282.9,560.6 L1284.9,557.9 L1286.9,555.4 L1288.9,552.9 L1290.9,550.6 L1292.9,548.3 L1294.9,546.2 L1296.9,544.1 L1298.9,542.0 L1300.9,539.9 L1302.9,537.9 L1304.9,535.7 L1306.9,533.6 L1308.9,531.5 L1310.9,529.4 L1312.9,527.3 L1314.9,525.3 L1316.9,523.3 L1318.9,521.4 L1320.9,519.5 L1322.9,517.7 L1324.9,516.0 L1326.9,514.3 L1328.9,512.6 L1330.9,511.0 L1332.9,509.4 L1334.9,507.8 L1336.9,506.3 L1338.9,504.8 L1340.9,503.3 L1342.9,501.9 L1344.9,500.5 L1346.9,499.2 L1348.9,497.8 L1350.9,496.6 L1352.9,495.4 L1354.9,494.2 L1356.9,493.0 L1358.9,491.9 L1360.9,490.8 L1362.9,489.8 L1364.9,488.7 L1366.9,487.7 L1368.9,486.6 L1370.9,485.6 L1372.9,484.5 L1374.9,483.5 L1376.9,482.5 L1378.9,481.5 L1380.9,480.5 L1382.9,479.6 L1384.9,478.7 L1386.9,477.8 L1388.9,477.0 L1390.9,476.2 L1392.9,475.4 L1394.9,474.6 L1396.9,473.8 L1398.9,473.1 L1400.9,472.3 L1402.9,471.5 L1404.9,470.7 L1406.9,469.9 L1408.9,469.1 L1410.9,468.3 L1412.9,467.5 L1414.9,466.7 L1416.9,465.9 L1418.9,465.2 L1420.9,464.4 L1422.9,463.7 L1424.9,463.0 L1426.9,462.3 L1428.9,461.6 L1430.9,460.9 L1432.9,460.3 L1434.9,459.7 L1436.9,459.1 L1438.9,458.5 L1440.9,458.0 L1442.9,457.5 L1444.9,457.0 L1446.9,456.5 L1448.9,456.1 L1450.9,455.7 L1452.9,455.3 L1454.9,455.0 L1456.9,454.6 L1458.9,454.3 L1460.9,454.0 L1462.9,453.7 L1464.9,453.5 L1466.9,453.3 L1468.9,453.1 L1470.9,452.9 L1472.9,452.7 L1474.9,452.6 L1476.9,452.4 L1478.9,452.3 L1480.9,452.2 L1482.9,452.0 L1484.9,451.9 L1486.9,451.7 L1488.9,451.6 L1490.9,451.4 L1492.9,451.3 L1494.9,451.1 L1496.9,451.0 L1498.9,450.8 L1500.9,450.7 L1502.9,450.6 L1504.9,450.5 L1506.9,450.5 L1508.9,450.4 L1510.9,450.3 L1512.9,450.3 L1514.9,450.2 L1516.9,450.2 L1518.9,450.1 L1520.9,450.1 L1522.9,450.0 L1524.9,450.0 L1526.9,449.9 L1528.9,449.9 L1530.9,449.9 L1532.9,449.8 L1534.9,449.8 L1536.9,449.8 L1538.9,449.7 L1540.9,449.7 L1542.9,449.7 L1544.9,449.7 L1546.9,449.7 L1548.9,449.6 L1550.9,449.6 L1552.9,449.6 L1554.9,449.6 L1556.9,449.6 L1558.9,449.6 L1560.9,449.6 L1562.9,449.6 L1564.9,449.6 L1566.9,449.6 L1568.9,449.6 L1570.9,449.6 L1572.9,449.6 L1574.9,449.6 L1576.9,449.6 L1578.9,449.6 L1580.9,449.6 L1582.9,449.6 L1584.9,449.5 L1586.9,449.5 L1588.9,449.5 L1590.9,449.5 L1592.9,449.5 L1594.9,449.5 L1596.9,449.5 L1598.9,449.5 L1600.9,449.5 L1602.9,449.5 L1604.9,449.5 L1606.9,449.5 L1608.9,449.5 L1610.9,449.5 L1612.9,449.5 L1614.9,449.5 L1616.9,449.5 L1618.9,449.5 L1620.9,449.5 L1622.9,449.5 L1624.9,449.5 L1626.9,449.5 L1628.9,449.5 L1630.9,449.5 L1632.9,449.5 L1634.9,449.5 L1636.9,449.5 L1638.9,449.5 L1640.9,449.5 L1642.9,449.5 L1644.9,449.5 L1646.9,449.5 L1648.9,449.5 L1650.9,449.5 L1652.9,449.5 L1654.9,449.4 L1656.9,449.4 L1658.9,449.4 L1660.9,449.4 L1662.9,449.4 L1664.9,449.4 L1666.9,449.4 L1668.9,449.4 L1670.9,449.4 L1672.9,449.4 L1674.9,449.4 L1676.9,449.4 L1678.9,449.4 L1680.9,449.4 L1682.9,449.4 L1684.9,449.4 L1686.9,449.4 L1688.9,449.4 L1690.9,449.4 L1692.9,449.4 L1694.9,449.4 L1696.9,449.4 L1698.9,449.4 L1700.9,449.4 L1702.9,449.4 L1704.9,449.4 L1706.9,449.4 L1708.9,449.4 L1710.9,449.4 L1712.9,449.4 L1714.9,449.4 L1716.9,449.4 L1718.9,449.4 L1720.9,449.4 L1722.9,449.4 L1724.9,449.4 L1726.9,449.4 L1728.9,449.4 L1730.9,449.4 L1732.9,449.4 L1734.9,449.4 L1736.9,449.4 L1738.9,449.4 L1740.9,449.4 L1742.9,449.4 L1744.9,449.4 L1746.9,449.4 L1748.9,449.4 L1750.9,449.4 L1752.9,449.4 L1754.9,449.4 L1756.9,449.4 L1758.9,449.4 L1760.9,449.4 L1762.9,449.4 L1764.9,449.4 L1766.9,449.3 L1768.9,449.3 L1770.9,449.3 L1772.9,449.3 L1774.9,449.3 L1776.9,449.3 L1778.9,449.3 L1780.9,449.3 L1782.9,449.3 L1784.9,449.3 L1786.9,449.3 L1788.9,449.3 L1790.9,449.3 L1792.9,449.3 L1794.9,449.3 L1796.9,449.3 L1798.9,449.3 L1800.9,449.3 L1802.9,449.3 L1804.9,449.3 L1806.9,449.3 L1808.9,449.3 L1810.9,449.3 L1812.9,449.3 L1814.9,449.3 L1816.9,449.3 L1818.9,449.3 L1820.9,449.3 L1822.9,449.3 L1824.9,449.3 L1826.9,449.3 L1828.9,449.3 L1830.9,449.3 L1832.9,449.3 L1834.9,449.3 L1836.9,449.3 L1838.9,449.3 L1840.9,449.3 L1842.9,449.3 L1844.9,449.3 L1846.9,449.3 L1848.9,449.3 L1850.9,449.3 L1852.9,449.3 L1854.9,449.3 L1856.9,449.3 L1858.9,449.3 L1860.9,449.3 L1862.9,449.3 L1864.9,449.3 L1866.9,449.3 L1868.9,449.3 L1870.9,449.3 L1872.9,449.3 L1874.9,449.3 L1876.9,449.3 L1878.9,449.3 L1880.9,449.3 L1882.9,449.3 L1884.9,449.3 L1886.9,449.3 L1888.9,449.3 L1890.9,449.3 L1892.9,449.3 L1894.9,449.3 L1896.9,449.3 L1898.9,449.3 L1900.9,449.3 L1902.9,449.3 L1904.9,449.3 L1906.9,449.3 L1908.9,449.3 L1910.9,449.3 L1912.9,449.3 L1914.9,449.3 L1916.9,449.3 L1918.9,449.3 L1920.9,449.3 L1922.9,449.3 L1924.9,449.3 L1926.9,449.3 L1928.9,449.3 L1930.9,449.3 L1932.9,449.3 L1934.9,449.3 L1936.9,449.3 L1938.9,449.3 L1940.9,449.3 L1942.9,449.3 L1944.9,449.3 L1946.9,449.3 L1948.9,449.3 L1950.9,449.3 L1952.9,449.3 L1954.9,449.3 L1956.9,449.3 L1958.9,449.3 L1960.2,449.3" stroke="#0a6796"/>
<path d="M1174.3,755.9 L1176.3,753.5 L1178.3,751.2 L1180.3,748.8 L1182.3,746.5 L1184.3,744.2 L1186.3,741.9 L1188.3,739.6 L1190.3,737.3 L1192.3,735.0 L1194.3,732.5 L1196.3,730.0 L1198.3,727.4 L1200.3,724.7 L1202.3,722.1 L1204.3,719.5 L1206.3,717.0 L1208.3,714.7 L1210.3,712.5 L1212.3,710.3 L1214.3,708.1 L1216.3,705.9 L1218.3,703.6 L1220.3,701.4 L1222.3,699.0 L1224.3,696.7 L1226.3,694.4 L1228.3,692.0 L1230.3,689.7 L1232.3,687.4 L1234.3,685.2 L1236.3,683.0 L1238.3,680.8 L1240.3,678.6 L1242.3,676.4 L1244.3,674.2 L1246.3,672.1 L1248.3,670.0 L1250.3,668.1 L1252.3,666.2 L1254.3,664.4 L1256.3,662.7 L1258.3,661.0 L1260.3,659.4 L1262.3,657.7 L1264.3,655.9 L1266.3,654.1 L1268.3,652.2 L1270.3,650.3 L1272.3,648.6 L1274.3,647.0 L1276.3,645.6 L1278.3,644.3 L1280.3,643.2 L1282.3,642.2 L1284.3,641.2 L1286.3,640.3 L1288.3,639.3 L1290.3,638.4 L1292.3,637.4 L1294.3,636.4 L1296.3,635.5 L1298.3,634.5 L1300.3,633.5 L1302.3,632.5 L1304.3,631.5 L1306.3,630.4 L1308.3,629.4 L1310.3,628.3 L1312.3,627.1 L1314.3,626.0 L1316.3,624.8 L1318.3,623.6 L1320.3,622.3 L1322.3,621.0 L1324.3,619.6 L1326.3,618.2 L1328.3,616.8 L1330.3,615.4 L1332.3,614.1 L1334.3,612.7 L1336.3,611.3 L1338.3,610.0 L1340.3,608.9 L1342.3,607.8 L1344.3,606.9 L1346.3,606.1 L1348.3,605.4 L1350.3,604.8 L1352.3,604.2 L1354.3,603.7 L1356.3,603.1 L1358.3,602.6 L1360.3,602.1 L1362.3,601.5 L1364.3,601.0 L1366.3,600.5 L1368.3,599.9 L1370.3,599.4 L1372.3,599.0 L1374.3,598.5 L1376.3,598.1 L1378.3,597.8 L1380.3,597.5 L1382.3,597.1 L1384.3,596.9 L1386.3,596.6 L1388.3,596.3 L1390.3,595.9 L1392.3,595.6 L1394.3,595.2 L1396.3,594.7 L1398.3,594.2 L1400.3,593.7 L1402.3,593.2 L1404.3,592.7 L1406.3,592.2 L1408.3,591.7 L1410.3,591.2 L1412.3,590.8 L1414.3,590.4 L1416.3,590.0 L1418.3,589.8 L1420.3,589.7 L1422.3,589.7 L1424.3,589.8 L1426.3,590.0 L1428.3,590.3 L1430.3,590.5 L1432.3,590.7 L1434.3,590.8 L1436.3,590.9 L1438.3,590.9 L1440.3,590.9 L1442.3,590.8 L1444.3,590.8 L1446.3,590.8 L1448.3,590.8 L1450.3,590.8 L1452.3,590.8 L1454.3,590.8 L1456.3,590.8 L1458.3,590.7 L1460.3,590.4 L1462.3,590.1 L1464.3,589.8 L1466.3,589.4 L1468.3,589.1 L1470.3,588.9 L1472.3,588.7 L1474.3,588.6 L1476.3,588.5 L1478.3,588.5 L1480.3,588.4 L1482.3,588.3 L1484.3,588.2 L1486.3,588.1 L1488.3,588.0 L1490.3,587.9 L1492.3,587.8 L1494.3,587.7 L1496.3,587.6 L1498.3,587.5 L1500.3,587.3 L1502.3,587.2 L1504.3,587.1 L1506.3,586.9 L1508.3,586.7 L1510.3,586.5 L1512.3,586.3 L1514.3,586.1 L1516.3,585.9 L1518.3,585.7 L1520.3,585.5 L1522.3,585.2 L1524.3,585.0 L1526.3,584.8 L1528.3,584.6 L1530.3,584.4 L1532.3,584.2 L1534.3,584.1 L1536.3,583.9 L1538.3,583.7 L1540.3,583.6 L1542.3,583.5 L1544.3,583.3 L1546.3,583.2 L1548.3,583.1 L1550.3,582.9 L1552.3,582.8 L1554.3,582.7 L1556.3,582.6 L1558.3,582.5 L1560.3,582.3 L1562.3,582.2 L1564.3,582.1 L1566.3,582.0 L1568.3,581.9 L1570.3,581.8 L1572.3,581.8 L1574.3,581.7 L1576.3,581.6 L1578.3,581.5 L1580.3,581.5 L1582.3,581.4 L1584.3,581.3 L1586.3,581.3 L1588.3,581.2 L1590.3,581.2 L1592.3,581.1 L1594.3,581.1 L1596.3,581.0 L1598.3,580.9 L1600.3,580.9 L1602.3,580.9 L1604.3,580.8 L1606.3,580.8 L1608.3,580.7 L1610.3,580.7 L1612.3,580.7 L1614.3,580.7 L1616.3,580.6 L1618.3,580.6 L1620.3,580.6 L1622.3,580.6 L1624.3,580.6 L1626.3,580.6 L1628.3,580.6 L1630.3,580.6 L1632.3,580.7 L1634.3,580.7 L1636.3,580.7 L1638.3,580.7 L1640.3,580.8 L1642.3,580.8 L1644.3,580.8 L1646.3,580.8 L1648.3,580.9 L1650.3,580.9 L1652.3,580.9 L1654.3,581.0 L1656.3,581.0 L1658.3,581.0 L1660.3,581.1 L1662.3,581.1 L1664.3,581.2 L1666.3,581.2 L1668.3,581.2 L1670.3,581.3 L1672.3,581.3 L1674.3,581.4 L1676.3,581.4 L1678.3,581.5 L1680.3,581.5 L1682.3,581.6 L1684.3,581.6 L1686.3,581.7 L1688.3,581.7 L1690.3,581.8 L1692.3,581.8 L1694.3,581.9 L1696.3,581.9 L1698.3,581.9 L1700.3,582.0 L1702.3,582.0 L1704.3,582.1 L1706.3,582.1 L1708.3,582.1 L1710.3,582.2 L1712.3,582.2 L1714.3,582.2 L1716.3,582.2 L1718.3,582.2 L1720.3,582.2 L1722.3,582.3 L1724.3,582.3 L1726.3,582.3 L1728.3,582.3 L1730.3,582.3 L1732.3,582.3 L1734.3,582.3 L1736.3,582.3 L1738.3,582.4 L1740.3,582.4 L1742.3,582.4 L1744.3,582.4 L1746.3,582.4 L1748.3,582.4 L1750.3,582.4 L1752.3,582.4 L1754.3,582.4 L1756.3,582.4 L1758.3,582.3 L1760.3,582.3 L1762.3,582.3 L1764.3,582.2 L1766.3,582.2 L1768.3,582.1 L1770.3,582.1 L1772.3,582.0 L1774.3,582.0 L1776.3,582.0 L1778.3,581.9 L1780.3,581.9 L1782.3,581.9 L1784.3,581.9 L1786.3,582.0 L1788.3,582.0 L1790.3,582.0 L1792.3,582.1 L1794.3,582.1 L1796.3,582.2 L1798.3,582.2 L1800.3,582.3 L1802.3,582.4 L1804.3,582.5 L1806.3,582.5 L1808.3,582.6 L1810.3,582.7 L1812.3,582.7 L1814.3,582.8 L1816.3,582.9 L1818.3,582.9 L1820.3,583.0 L1822.3,583.1 L1824.3,583.1 L1826.3,583.2 L1828.3,583.3 L1830.3,583.3 L1832.3,583.4 L1834.3,583.5 L1836.3,583.5 L1838.3,583.6 L1840.3,583.6 L1842.3,583.7 L1844.3,583.8 L1846.3,583.8 L1848.3,583.9 L1850.3,584.0 L1852.3,584.1 L1854.3,584.1 L1856.3,584.2 L1858.3,584.3 L1860.3,584.3 L1862.3,584.4 L1864.3,584.5 L1866.3,584.6 L1868.3,584.6 L1870.3,584.7 L1872.3,584.8 L1874.3,584.9 L1876.3,584.9 L1878.3,585.0 L1880.3,585.1 L1882.3,585.2 L1884.3,585.3 L1886.3,585.4 L1888.3,585.5 L1890.3,585.6 L1892.3,585.7 L1894.3,585.8 L1896.3,585.9 L1898.3,585.9 L1900.3,586.0 L1902.3,586.1 L1904.3,586.2 L1906.3,586.3 L1908.3,586.4 L1910.3,586.5 L1912.3,586.6 L1914.3,586.7 L1916.3,586.8 L1918.3,586.9 L1920.3,587.0 L1922.3,587.1 L1924.3,587.1 L1926.3,587.2 L1928.3,587.3 L1930.3,587.4 L1932.3,587.5 L1934.3,587.5 L1936.3,587.6 L1938.3,587.7 L1940.3,587.8 L1942.3,587.9 L1944.3,587.9 L1946.3,588.0 L1948.3,588.1 L1950.3,588.2 L1952.3,588.2 L1954.3,588.3 L1956.3,588.4 L1958.3,588.4 L1960.2,588.5" stroke="#bb0000"/>
</g>
<rect x="1135.5" y="434.3" width="864.4" height="338.0" fill="none" stroke="#0a0a0a" stroke-width="2.6" stroke-linejoin="miter"/>
<text x="1119.80" y="731.70" font-size="21" text-anchor="end" font-family="'DejaVu Sans', 'Liberation Sans', sans-serif">0.0</text>
<text x="1119.80" y="676.90" font-size="21" text-anchor="end" font-family="'DejaVu Sans', 'Liberation Sans', sans-serif">0.2</text>
<text x="1119.80" y="622.10" font-size="21" text-anchor="end" font-family="'DejaVu Sans', 'Liberation Sans', sans-serif">0.4</text>
<text x="1119.80" y="567.30" font-size="21" text-anchor="end" font-family="'DejaVu Sans', 'Liberation Sans', sans-serif">0.6</text>
<text x="1119.80" y="512.50" font-size="21" text-anchor="end" font-family="'DejaVu Sans', 'Liberation Sans', sans-serif">0.8</text>
<text x="1119.80" y="457.70" font-size="21" text-anchor="end" font-family="'DejaVu Sans', 'Liberation Sans', sans-serif">1.0</text>
<text x="1174.70" y="803.00" font-size="21" text-anchor="middle" font-family="'DejaVu Sans', 'Liberation Sans', sans-serif">0</text>
<text x="1295.73" y="803.00" font-size="21" text-anchor="middle" font-family="'DejaVu Sans', 'Liberation Sans', sans-serif">100</text>
<text x="1416.76" y="803.00" font-size="21" text-anchor="middle" font-family="'DejaVu Sans', 'Liberation Sans', sans-serif">200</text>
<text x="1537.79" y="803.00" font-size="21" text-anchor="middle" font-family="'DejaVu Sans', 'Liberation Sans', sans-serif">300</text>
<text x="1658.82" y="803.00" font-size="21" text-anchor="middle" font-family="'DejaVu Sans', 'Liberation Sans', sans-serif">400</text>
<text x="1779.85" y="803.00" font-size="21" text-anchor="middle" font-family="'DejaVu Sans', 'Liberation Sans', sans-serif">500</text>
<text x="1900.88" y="803.00" font-size="21" text-anchor="middle" font-family="'DejaVu Sans', 'Liberation Sans', sans-serif">600</text>
<text x="1534.90" y="829.60" font-size="21" text-anchor="middle" font-family="'DejaVu Sans', 'Liberation Sans', sans-serif">Epoch</text>
<line x1="1718.0" y1="709.2" x2="1759.8" y2="709.2" stroke="#0a6796" stroke-width="3.6" stroke-linecap="round"/>
<line x1="1718.0" y1="741.3" x2="1759.8" y2="741.3" stroke="#bb0000" stroke-width="3.6" stroke-linecap="round"/>
<text x="1777.8" y="715.9" font-size="21" font-family="'DejaVu Sans', 'Liberation Sans', sans-serif">Training R<tspan dy="-12.2">2</tspan><tspan dy="12.2"> score</tspan></text>
<text x="1777.8" y="748.5" font-size="21" font-family="'DejaVu Sans', 'Liberation Sans', sans-serif">Validation R<tspan dy="-12.2">2</tspan><tspan dy="12.2"> score</tspan></text>
<clipPath id="clipE"><rect x="109.6" y="856.9" width="864.5" height="338.19999999999993"/></clipPath>
<g clip-path="url(#clipE)" fill="none" stroke-width="3.6" stroke-linejoin="round" stroke-linecap="round">
<path d="M148.4,1172.4 L150.1,1142.5 L151.3,1112.5 L152.8,1096.8 L153.7,1095.8 L156.4,1084.4 L160.4,1084.4 L162.7,1061.5 L164.7,1059.9 L165.1,1052.1 L167.1,1051.3 L168.7,1030.8 L171.8,1030.4 L173.0,1025.2 L175.8,1025.2 L176.9,1030.8 L178.5,1014.2 L181.3,1014.6 L182.9,1020.1 L184.0,1011.0 L188.0,1011.0 L189.6,1006.3 L190.6,1000.0 L191.8,980.8 L194.2,981.2 L197.0,984.4 L197.7,968.6 L199.7,967.8 L200.9,968.6 L201.7,959.9 L202.9,959.5 L204.8,959.9 L205.6,951.3 L207.2,950.9 L208.8,951.3 L209.2,941.8 L210.8,943.0 L213.1,944.2 L213.5,933.1 L224.2,933.5 L225.0,922.9 L227.3,922.5 L228.1,911.0 L236.8,911.0 L239.1,912.6 L270.2,912.6 L271.5,899.6 L301.4,899.6 L302.7,897.8 L332.7,897.8 L334.0,884.7 L342.5,884.7 L343.7,871.7 L934.4,871.7" stroke="#0a6796"/>
<path d="M148.6,1179.3 L152.0,1152.3 L153.5,1144.0 L155.4,1151.5 L155.4,1116.3 L157.6,1108.8 L159.9,1116.3 L161.0,1099.0 L163.3,1094.5 L163.9,1089.1 L167.9,1089.1 L169.1,1080.8 L174.2,1081.2 L176.5,1063.9 L181.3,1061.9 L184.0,1062.3 L184.8,1038.6 L186.0,1038.6 L187.6,1048.9 L188.8,1034.7 L205.1,1034.4 L207.2,1021.4 L235.0,1021.4 L236.3,1011.0 L310.5,1011.0 L312.4,1002.7 L326.2,1002.7 L328.0,1011.5 L330.1,1011.5 L332.7,958.9 L364.7,958.3 L366.3,951.5 L374.0,951.5 L374.9,935.4 L401.8,935.4 L403.4,941.3 L706.3,941.3 L707.8,925.5 L934.4,925.5" stroke="#bb0000"/>
</g>
<rect x="109.6" y="856.9" width="864.5" height="338.2" fill="none" stroke="#0a0a0a" stroke-width="2.6" stroke-linejoin="miter"/>
<text x="93.90" y="1131.70" font-size="21" text-anchor="end" font-family="'DejaVu Sans', 'Liberation Sans', sans-serif">0.4</text>
<text x="93.90" y="1047.87" font-size="21" text-anchor="end" font-family="'DejaVu Sans', 'Liberation Sans', sans-serif">0.6</text>
<text x="93.90" y="964.03" font-size="21" text-anchor="end" font-family="'DejaVu Sans', 'Liberation Sans', sans-serif">0.8</text>
<text x="93.90" y="880.20" font-size="21" text-anchor="end" font-family="'DejaVu Sans', 'Liberation Sans', sans-serif">1.0</text>
<text x="148.90" y="1227.20" font-size="21" text-anchor="middle" font-family="'DejaVu Sans', 'Liberation Sans', sans-serif">0</text>
<text x="269.93" y="1227.20" font-size="21" text-anchor="middle" font-family="'DejaVu Sans', 'Liberation Sans', sans-serif">100</text>
<text x="390.96" y="1227.20" font-size="21" text-anchor="middle" font-family="'DejaVu Sans', 'Liberation Sans', sans-serif">200</text>
<text x="511.99" y="1227.20" font-size="21" text-anchor="middle" font-family="'DejaVu Sans', 'Liberation Sans', sans-serif">300</text>
<text x="633.02" y="1227.20" font-size="21" text-anchor="middle" font-family="'DejaVu Sans', 'Liberation Sans', sans-serif">400</text>
<text x="754.05" y="1227.20" font-size="21" text-anchor="middle" font-family="'DejaVu Sans', 'Liberation Sans', sans-serif">500</text>
<text x="875.08" y="1227.20" font-size="21" text-anchor="middle" font-family="'DejaVu Sans', 'Liberation Sans', sans-serif">600</text>
<text x="541.60" y="1257.40" font-size="21" text-anchor="middle" font-family="'DejaVu Sans', 'Liberation Sans', sans-serif">Epoch</text>
<line x1="688.5" y1="1131.7" x2="731.0" y2="1131.7" stroke="#0a6796" stroke-width="3.6" stroke-linecap="round"/>
<line x1="688.5" y1="1163.4" x2="731.0" y2="1163.4" stroke="#bb0000" stroke-width="3.6" stroke-linecap="round"/>
<text x="748.50" y="1138.90" font-size="21" text-anchor="start" font-family="'DejaVu Sans', 'Liberation Sans', sans-serif">Training Precision</text>
<text x="748.50" y="1170.60" font-size="21" text-anchor="start" font-family="'DejaVu Sans', 'Liberation Sans', sans-serif">Validation Precision</text>
<clipPath id="clipF"><rect x="1135.5" y="857.0" width="864.4000000000001" height="337.9000000000001"/></clipPath>
<g clip-path="url(#clipF)" fill="none" stroke-width="3.6" stroke-linejoin="round" stroke-linecap="round">
<path d="M1174.0,1121.5 L1175.2,1103.8 L1177.5,1082.3 L1178.5,1000.0 L1179.6,959.3 L1180.1,941.7 L1181.2,927.3 L1182.9,926.2 L1184.0,912.8 L1186.2,912.8 L1187.3,899.3 L1192.8,899.3 L1193.9,872.5 L1209.4,872.5 L1211.0,885.9 L1216.6,885.9 L1217.6,872.5 L1220.2,872.5 L1221.7,885.9 L1234.0,885.9 L1235.8,899.3 L1298.6,899.3 L1299.9,912.8 L1327.2,912.8 L1328.3,899.3 L1343.8,899.3 L1345.2,885.9 L1374.2,885.9 L1375.5,872.5 L1960.2,872.5" stroke="#0a6796"/>
<path d="M1174.5,1179.3 L1176.8,1117.9 L1179.1,1117.9 L1179.8,1087.2 L1181.4,1087.2 L1182.2,995.2 L1185.7,995.2 L1187.3,964.5 L1188.4,964.5 L1189.5,933.9 L1194.5,933.9 L1195.6,903.2 L1205.5,903.2 L1207.2,933.9 L1211.6,933.9 L1213.3,964.5 L1245.7,964.5 L1247.8,1025.9 L1260.0,1025.9 L1261.3,995.2 L1389.9,995.2 L1391.4,964.5 L1427.7,964.5 L1429.0,995.2 L1960.2,995.2" stroke="#bb0000"/>
</g>
<rect x="1135.5" y="857.0" width="864.4" height="337.9" fill="none" stroke="#0a0a0a" stroke-width="2.6" stroke-linejoin="miter"/>
<text x="1119.80" y="1137.90" font-size="21" text-anchor="end" font-family="'DejaVu Sans', 'Liberation Sans', sans-serif">0.4</text>
<text x="1119.80" y="1052.00" font-size="21" text-anchor="end" font-family="'DejaVu Sans', 'Liberation Sans', sans-serif">0.6</text>
<text x="1119.80" y="966.10" font-size="21" text-anchor="end" font-family="'DejaVu Sans', 'Liberation Sans', sans-serif">0.8</text>
<text x="1119.80" y="880.20" font-size="21" text-anchor="end" font-family="'DejaVu Sans', 'Liberation Sans', sans-serif">1.0</text>
<text x="1174.70" y="1227.20" font-size="21" text-anchor="middle" font-family="'DejaVu Sans', 'Liberation Sans', sans-serif">0</text>
<text x="1295.73" y="1227.20" font-size="21" text-anchor="middle" font-family="'DejaVu Sans', 'Liberation Sans', sans-serif">100</text>
<text x="1416.76" y="1227.20" font-size="21" text-anchor="middle" font-family="'DejaVu Sans', 'Liberation Sans', sans-serif">200</text>
<text x="1537.79" y="1227.20" font-size="21" text-anchor="middle" font-family="'DejaVu Sans', 'Liberation Sans', sans-serif">300</text>
<text x="1658.82" y="1227.20" font-size="21" text-anchor="middle" font-family="'DejaVu Sans', 'Liberation Sans', sans-serif">400</text>
<text x="1779.85" y="1227.20" font-size="21" text-anchor="middle" font-family="'DejaVu Sans', 'Liberation Sans', sans-serif">500</text>
<text x="1900.88" y="1227.20" font-size="21" text-anchor="middle" font-family="'DejaVu Sans', 'Liberation Sans', sans-serif">600</text>
<text x="1540.00" y="1253.80" font-size="21" text-anchor="middle" font-family="'DejaVu Sans', 'Liberation Sans', sans-serif">Epoch</text>
<line x1="1699.0" y1="1131.7" x2="1741.3" y2="1131.7" stroke="#0a6796" stroke-width="3.6" stroke-linecap="round"/>
<line x1="1699.0" y1="1163.4" x2="1741.3" y2="1163.4" stroke="#bb0000" stroke-width="3.6" stroke-linecap="round"/>
<text x="1759.10" y="1138.90" font-size="21" text-anchor="start" font-family="'DejaVu Sans', 'Liberation Sans', sans-serif">Training Sensitivity</text>
<text x="1759.10" y="1170.60" font-size="21" text-anchor="start" font-family="'DejaVu Sans', 'Liberation Sans', sans-serif">Validation Sensitivity</text>
<text transform="translate(47.50,215.20) rotate(-90)" font-size="33.6" text-anchor="start" font-family="'DejaVu Sans', 'Liberation Sans', sans-serif">Loss</text>
<text transform="translate(30.40,768.30) rotate(-90)" font-size="33.6" text-anchor="start" font-family="'DejaVu Sans', 'Liberation Sans', sans-serif">Mean squared error</text>
<text transform="translate(47.50,1103.50) rotate(-90)" font-size="33.6" text-anchor="start" font-family="'DejaVu Sans', 'Liberation Sans', sans-serif">Precision</text>
<text transform="translate(1071.70,1115.70) rotate(-90)" font-size="33.6" text-anchor="start" font-family="'DejaVu Sans', 'Liberation Sans', sans-serif">Sensitivity</text>
<text transform="translate(1070.2,271.5) rotate(-90)" font-size="48.2" font-family="'Liberation Serif', 'DejaVu Serif', serif" stroke="#1c1c1c" stroke-width="0.7">Accuracy</text>
<text transform="translate(1073.0,629.2) rotate(-90)" font-size="33.6" font-family="'DejaVu Sans', 'Liberation Sans', sans-serif">R<tspan dy="-19.3">2</tspan></text>
</svg></body></html>
